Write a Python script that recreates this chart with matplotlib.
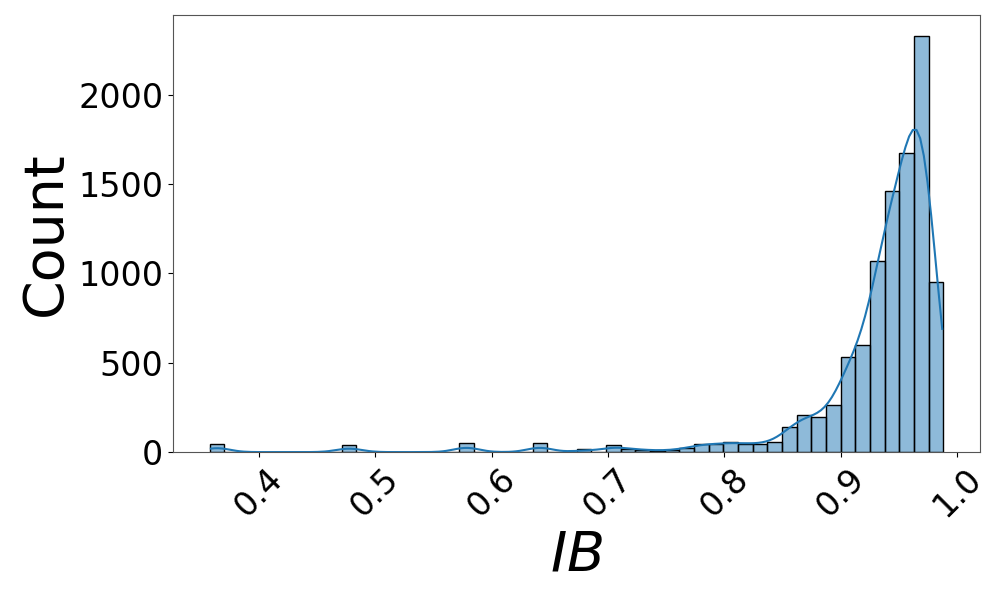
import matplotlib
matplotlib.use("Agg")
import matplotlib.pyplot as plt
import numpy as np
import pandas as pd
import seaborn as sns

# histogram: 50 bins from 0.358 to 0.988
bin_lo = 0.358
bin_hi = 0.988
n_bins = 50
counts = [
    48, 0, 0, 0, 0, 0, 0, 0, 0, 42,
    0, 0, 0, 0, 0, 0, 0, 52, 0, 0,
    0, 0, 52, 0, 0, 15, 3, 40, 17, 14,
    8, 10, 22, 47, 43, 56, 47, 47, 56, 140,
    209, 196, 263, 530, 599, 1068, 1462, 1673, 2331, 950,
]

edges = np.linspace(bin_lo, bin_hi, n_bins + 1)
df = pd.DataFrame({"IB": (edges[:-1] + edges[1:]) / 2, "n": counts})

fig = plt.figure(figsize=(9.96, 5.98), dpi=100)
ax = fig.add_axes([0.1737, 0.244, 0.8103, 0.731])

# weighted bin centres give a tiny effective n, so shrink the bandwidth
sns.histplot(data=df, x="IB", weights="n", bins=n_bins,
             binrange=(bin_lo, bin_hi), kde=True, ax=ax,
             kde_kws={"bw_adjust": 0.21, "cut": 0.3},
             color="#1f77b4", edgecolor="black", linewidth=1.0, alpha=0.5)
ax.set_xlim(bin_lo - 0.05 * (bin_hi - bin_lo), bin_hi + 0.05 * (bin_hi - bin_lo))

ax.set_xlabel("$IB$", fontsize=40)
ax.set_ylabel("Count", fontsize=40)
ax.tick_params(axis="both", labelsize=24)
ax.tick_params(axis="x", rotation=45)
for s in ax.spines.values():
    s.set_color("#555555")

fig.savefig("out.png", dpi=100)
